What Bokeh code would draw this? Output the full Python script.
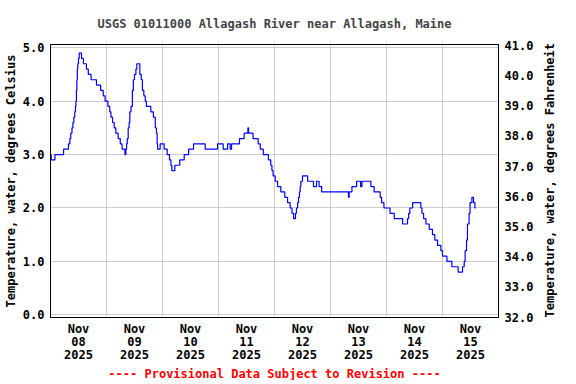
import math
from bokeh.plotting import figure
from bokeh.models import Range1d, LinearAxis, FixedTicker, Title, PrintfTickFormatter
from bokeh.embed import file_html
from bokeh.resources import INLINE

# Hours since 2025-11-08 00:00 at which the reading changes, and the reading (deg C)
hours = [0.0, 0.3, 1.9, 5.6, 7.7, 8.3, 8.7, 9.2, 9.6, 10.0, 10.4, 10.7, 10.9, 11.1, 11.3, 11.5,
         11.7, 12.0, 12.3, 13.3, 14.1, 15.4, 16.2, 17.4, 19.7, 21.5, 22.6, 23.4, 24.6, 25.4,
         25.9, 26.6, 27.3, 28.0, 29.0, 29.9, 30.7, 31.9, 32.3, 32.6, 32.9, 33.3, 33.7, 34.0,
         34.5, 35.1, 35.5, 36.0, 36.6, 37.0, 38.3, 38.9, 39.4, 40.0, 40.6, 41.1, 43.0, 44.1,
         44.9, 45.4, 45.7, 45.9, 47.0, 48.7, 50.0, 51.0, 51.6, 52.0, 53.3, 55.4, 57.3, 59.2,
         61.3, 66.3, 71.6, 74.0, 75.9, 77.0, 77.6, 81.0, 83.0, 84.6, 84.9, 86.8, 89.0, 89.9,
         91.2, 93.4, 94.4, 94.9, 95.4, 96.3, 97.3, 98.7, 100.4, 101.6, 102.7, 103.5, 104.2,
         105.0, 105.4, 105.9, 106.3, 106.7, 107.0, 107.3, 108.0, 110.2, 112.7, 114.0, 115.1,
         116.2, 127.7, 128.0, 129.2, 131.2, 132.9, 133.5, 137.3, 138.7, 141.3, 141.9, 142.9,
         145.5, 147.3, 150.9, 153.0, 153.5, 154.0, 155.2, 158.7, 159.2, 159.9, 160.9, 162.3,
         163.7, 164.7, 165.9, 167.3, 168.0, 169.9, 172.0, 174.7, 176.6, 177.3, 177.7, 178.3,
         178.7, 179.4, 179.8, 180.6, 181.3, 181.9, 182.3]
temp_c = [3.0, 2.9, 3.0, 3.1, 3.2, 3.3, 3.4, 3.5, 3.6, 3.7, 3.8, 3.9, 4.0, 4.2, 4.4, 4.6,
          4.7, 4.8, 4.9, 4.8, 4.7, 4.6, 4.5, 4.4, 4.3, 4.2, 4.1, 4.0, 3.9, 3.8,
          3.7, 3.6, 3.5, 3.4, 3.3, 3.2, 3.1, 3.0, 3.1, 3.2, 3.3, 3.5, 3.6, 3.8,
          3.9, 4.2, 4.4, 4.5, 4.6, 4.7, 4.5, 4.4, 4.2, 4.1, 4.0, 3.9, 3.8, 3.7,
          3.5, 3.4, 3.2, 3.1, 3.2, 3.1, 3.0, 2.9, 2.8, 2.7, 2.8, 2.9, 3.0, 3.1,
          3.2, 3.1, 3.2, 3.1, 3.2, 3.1, 3.2, 3.3, 3.4, 3.5, 3.4, 3.3, 3.2, 3.1,
          3.0, 2.9, 2.8, 2.7, 2.6, 2.5, 2.4, 2.3, 2.2, 2.1, 2.0, 1.9, 1.8,
          1.9, 2.0, 2.1, 2.2, 2.3, 2.4, 2.5, 2.6, 2.5, 2.4, 2.5, 2.4,
          2.3, 2.2, 2.3, 2.4, 2.5, 2.4, 2.5, 2.4, 2.3, 2.2, 2.1, 2.0,
          1.9, 1.8, 1.7, 1.8, 1.9, 2.0, 2.1, 2.0, 1.9, 1.8, 1.7, 1.6,
          1.5, 1.4, 1.3, 1.2, 1.1, 1.0, 0.9, 0.8, 0.9, 1.0, 1.2, 1.4,
          1.7, 1.9, 2.1, 2.2, 2.1, 2.0, 2.0]

midnight_hours = [0, 24, 48, 72, 96, 120, 144, 168, 192]
label_hours = [12, 36, 60, 84, 108, 132, 156, 180]
day_labels = ["Nov\n08\n2025", "Nov\n09\n2025", "Nov\n10\n2025", "Nov\n11\n2025",
              "Nov\n12\n2025", "Nov\n13\n2025", "Nov\n14\n2025", "Nov\n15\n2025"]
c_ticks = [0, 1, 2, 3, 4, 5]
f_ticks = [32, 33, 34, 35, 36, 37, 38, 39, 40, 41]

FONT = "DejaVu Sans Mono"

p = figure(width=568, height=380, output_backend="svg", toolbar_location=None,
           x_range=Range1d(0, 192), y_range=Range1d(-0.05, 5.06),
           min_border_left=44, min_border_right=70, min_border_top=40, min_border_bottom=60)
p.background_fill_color = "white"
p.border_fill_color = "white"
p.outline_line_color = "black"
p.outline_line_width = 1

p.step(hours, temp_c, mode="after", line_color="#0000ff", line_width=1.2)

p.title.text = "USGS 01011000 Allagash River near Allagash, Maine"
p.title.align = "center"
p.title.text_font = FONT
p.title.text_font_size = "12px"
p.title.text_font_style = "bold"
p.title.standoff = 28

p.xaxis.ticker = FixedTicker(ticks=label_hours)
p.xaxis.major_label_overrides = dict(zip(label_hours, day_labels))
p.xgrid.ticker = FixedTicker(ticks=midnight_hours)
p.yaxis.ticker = FixedTicker(ticks=c_ticks)
p.yaxis.formatter = PrintfTickFormatter(format="%.1f")
p.yaxis.axis_label = "Temperature, water, degrees Celsius"

p.extra_y_ranges = {"f": Range1d(31.99, 41.02)}
ax_f = LinearAxis(y_range_name="f", ticker=FixedTicker(ticks=f_ticks),
                  formatter=PrintfTickFormatter(format="%.1f"),
                  axis_label="Temperature, water, degrees Fahrenheit")
p.add_layout(ax_f, "right")

for ax in p.axis:
    ax.major_tick_out = 0
    ax.major_tick_in = 0
    ax.minor_tick_out = 0
    ax.minor_tick_in = 0
    ax.axis_line_color = "black"
    ax.major_label_text_font = FONT
    ax.major_label_text_font_size = "12px"
    ax.major_label_text_font_style = "bold"
    ax.major_label_text_color = "black"
    ax.axis_label_text_font = FONT
    ax.axis_label_text_font_size = "12px"
    ax.axis_label_text_font_style = "bold"
    ax.axis_label_text_color = "black"
    ax.major_label_standoff = 6

p.yaxis[0].axis_label_standoff = 2
ax_f.axis_label_standoff = 14
ax_f.axis_label_orientation = math.pi / 2
ax_f.axis_label_align = "start"
p.xaxis.major_label_text_line_height = 0.93
p.xaxis.major_label_standoff = 4

p.grid.grid_line_color = "#cccccc"
p.grid.grid_line_width = 1

footer = Title(text="---- Provisional Data Subject to Revision ----", align="center",
               text_color="red", text_font=FONT, text_font_size="12px",
               text_font_style="bold", standoff=0)
p.add_layout(footer, "below")

open("out.html", "w").write(file_html(p, INLINE))
